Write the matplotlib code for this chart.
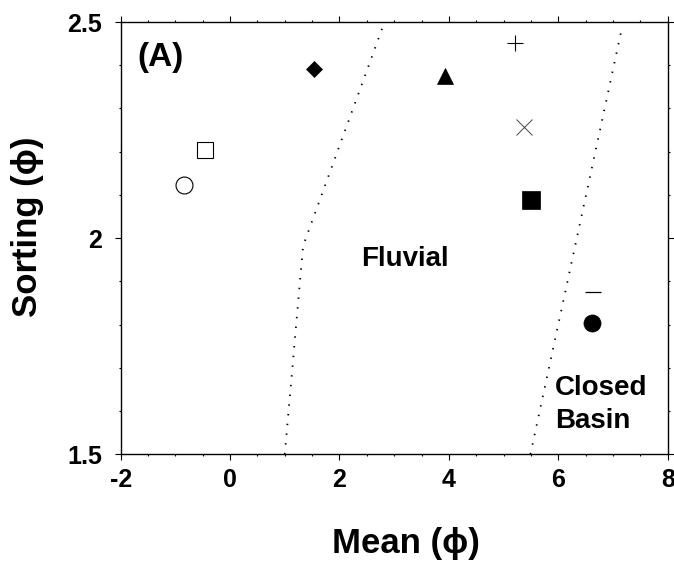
import numpy as np
import matplotlib
matplotlib.use("Agg")
import matplotlib.pyplot as plt
from matplotlib.ticker import MultipleLocator

plt.rcParams['font.family'] = ['Liberation Sans', 'DejaVu Sans']
plt.rcParams['font.weight'] = 'bold'
plt.rcParams['axes.unicode_minus'] = False

# samples: mean grain size and sorting, both in phi units
mean_phi = [-0.84, -0.45, 1.53, 3.93, 5.20, 5.38, 5.50, 6.64, 6.62]
sorting_phi = [2.122, 2.204, 2.391, 2.374, 2.451, 2.257, 2.088, 1.876, 1.803]

# dotted field boundaries
fluvial_x = [1.00, 1.335, 2.78]
fluvial_y = [1.50, 1.982, 2.485]
basin_x = [5.49, 7.16]
basin_y = [1.50, 2.485]

# marker style per sample (marker, size, face, edge, width)
styles = [
    ('o', 12.2, 'none', 'black', 0.8),
    ('s', 11.5, 'none', 'black', 0.8),
    ('D', 8.6, 'black', 'black', 0.5),
    ('^', 11.5, 'black', 'black', 0.5),
    ('+', 12.0, 'black', 'black', 0.8),
    ('x', 12.0, 'black', '#444444', 0.7),
    ('s', 12.7, 'black', 'black', 0.5),
    ('_', 11.5, 'black', 'black', 0.9),
    ('o', 12.3, 'black', 'black', 0.5),
]

fig = plt.figure(figsize=(6.74, 5.72), dpi=100)
ax = fig.add_axes([0.179, 0.2058, 0.8117, 0.7557])

ax.plot(fluvial_x, fluvial_y, color='black', lw=1.3, linestyle=(0, (0.8, 4.6)))
ax.plot(basin_x, basin_y, color='black', lw=1.3, linestyle=(0, (0.8, 4.6)))

for x, y, (m, ms, fc, ec, mw) in zip(mean_phi, sorting_phi, styles):
    ax.plot([x], [y], linestyle='none', marker=m, markersize=ms,
            markerfacecolor=fc, markeredgecolor=ec, markeredgewidth=mw)

ax.set_xlim(-2, 8)
ax.set_ylim(1.5, 2.5)
ax.xaxis.set_major_locator(MultipleLocator(2))
ax.xaxis.set_minor_locator(MultipleLocator(0.5))
ax.yaxis.set_minor_locator(MultipleLocator(0.1))
ax.set_yticks([1.5, 2.0, 2.5])
ax.set_yticklabels(['1.5', '2', '2.5'])

ax.tick_params(which='both', direction='out', top=True, right=True,
               width=0.8, colors='black')
ax.tick_params(which='major', length=4)
ax.tick_params(which='minor', length=1.7)
ax.tick_params(axis='x', which='major', labelsize=18, pad=6)
ax.tick_params(axis='y', which='major', labelsize=18, pad=9.5)
for lab in ax.get_xticklabels() + ax.get_yticklabels():
    lab.set_fontweight('bold')
for sp in ax.spines.values():
    sp.set_linewidth(1.0)

ax.set_xlabel('Mean (ϕ)', fontsize=25, fontweight='bold', va='baseline')
ax.xaxis.set_label_coords(0.5216, -0.229)
ax.set_ylabel('Sorting (ϕ)', fontsize=25, fontweight='bold', va='baseline')
ax.yaxis.set_label_coords(-0.1525, 0.526)

ax.text(-1.69, 2.398, '(A)', fontsize=24, fontweight='bold',
        ha='left', va='baseline')
ax.text(2.39, 1.935, 'Fluvial', fontsize=20, fontweight='bold',
        ha='left', va='baseline')
ax.text(5.934, 1.637, 'Closed', fontsize=20, fontweight='bold',
        ha='left', va='baseline')
ax.text(5.934, 1.561, 'Basin', fontsize=20, fontweight='bold',
        ha='left', va='baseline')

fig.savefig('out.png', dpi=100)
